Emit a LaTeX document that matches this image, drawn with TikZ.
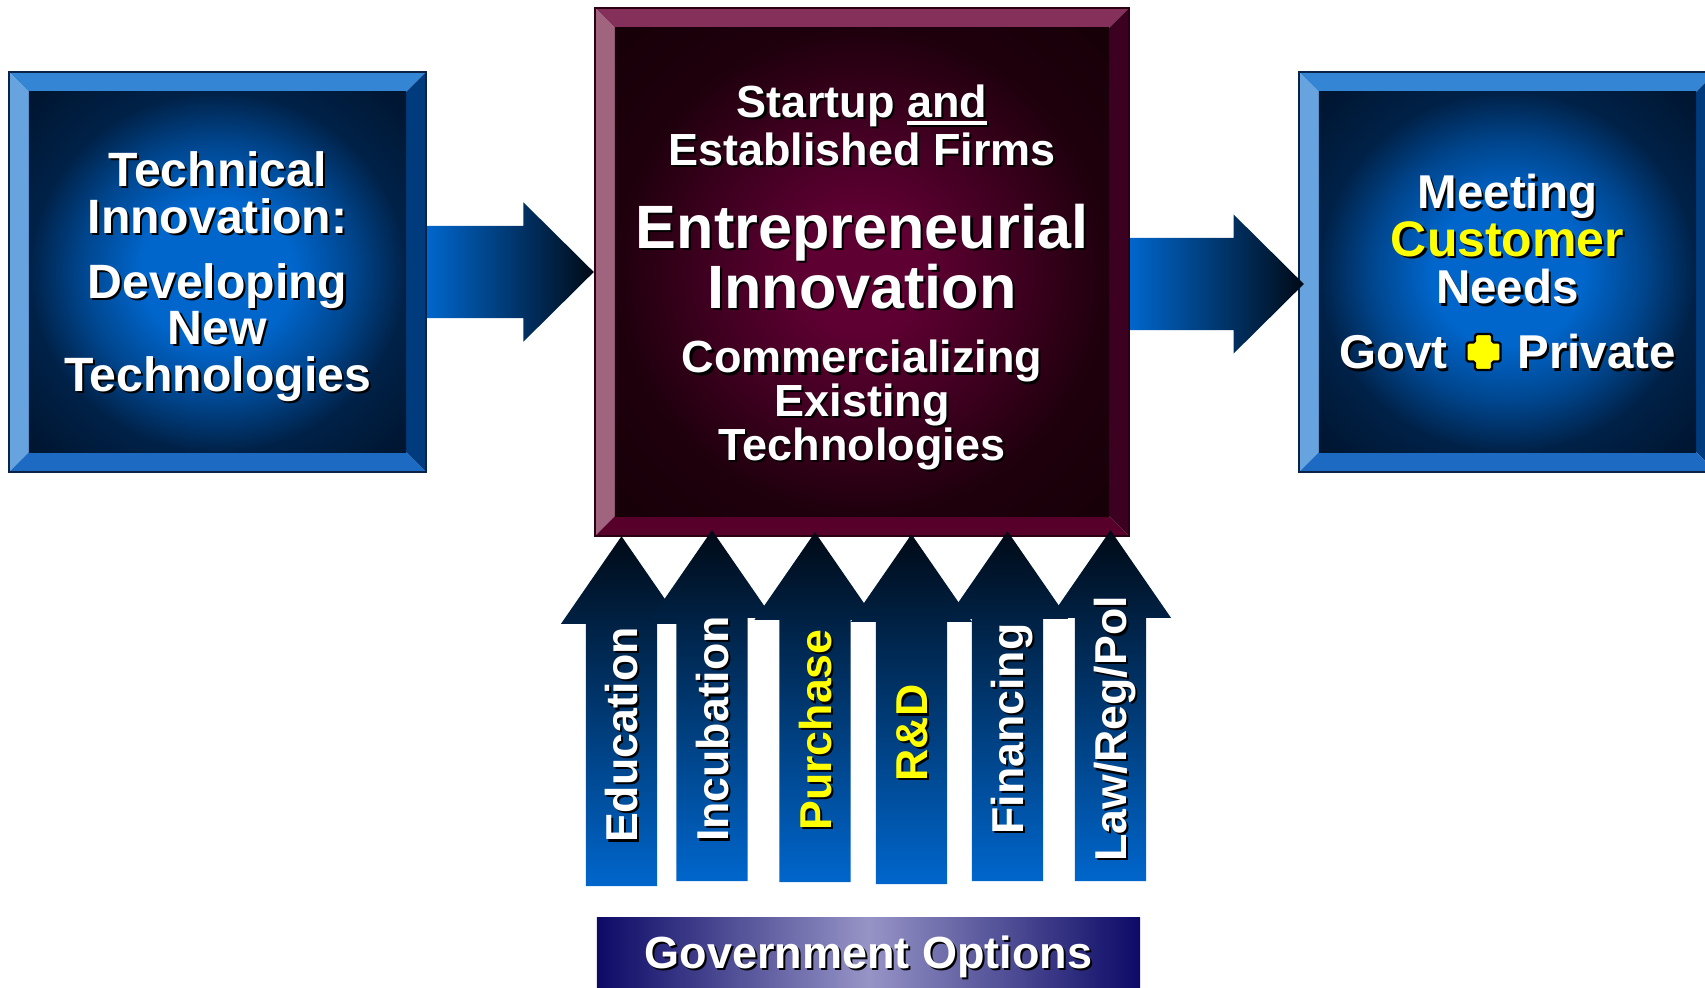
\documentclass[tikz,border=0pt]{standalone}
\usepackage{fontspec}
\setmainfont{Liberation Sans}
\usetikzlibrary{positioning,calc}

\definecolor{bluetop}{HTML}{3585D5}
\definecolor{blueleft}{HTML}{66A3DF}
\definecolor{blueright}{HTML}{003B7D}
\definecolor{bluebottom}{HTML}{1D6AC2}
\definecolor{bluelight}{HTML}{0066CC}
\definecolor{bluedark}{HTML}{001530}
\definecolor{blueline}{HTML}{0B2347}
\definecolor{winetop}{HTML}{85305B}
\definecolor{wineleft}{HTML}{A0647F}
\definecolor{wineright}{HTML}{3C0021}
\definecolor{winebottom}{HTML}{56002A}
\definecolor{winelight}{HTML}{5E0032}
\definecolor{winedark}{HTML}{170008}
\definecolor{wineline}{HTML}{2A0012}
\definecolor{arrowtip}{HTML}{000A16}
\definecolor{arrowtail}{HTML}{0066CC}
\definecolor{govedge}{HTML}{0C0A66}
\definecolor{govmid}{HTML}{9694C6}
\definecolor{hl}{HTML}{FFFF00}

\pgfdeclareradialshading{blueglow}{\pgfpoint{0bp}{0bp}}{color(0bp)=(bluelight); color(10bp)=(bluelight); color(18bp)=(bluelight!60!bluedark); color(25bp)=(bluelight!15!bluedark); color(35bp)=(bluedark); color(50bp)=(bluedark)}
\pgfdeclareradialshading{wineglow}{\pgfpoint{0bp}{0bp}}{color(0bp)=(winelight); color(6bp)=(winelight); color(16bp)=(winelight!55!winedark); color(25bp)=(winelight!10!winedark); color(35bp)=(winedark); color(50bp)=(winedark)}

% text with a dark drop shadow (upright and turned)
\newcommand{\sh}[1]{\leavevmode\rlap{\colorlet{hl}{black}\color{black}\kern0.6pt\raisebox{-0.6pt}[0pt][0pt]{#1}}#1}
\newcommand{\rsh}[1]{\leavevmode\rlap{\colorlet{hl}{black}\color{black}\kern-0.6pt\raisebox{-0.6pt}[0pt][0pt]{#1}}#1}
\newcommand{\undl}[1]{\setbox0\hbox{#1}\rlap{\rule[-2.2pt]{\wd0}{1.1pt}}\box0}

\tikzset{
    bevel/.style n args={5}{path picture={
        \coordinate (pnw) at (path picture bounding box.north west);
        \coordinate (pne) at (path picture bounding box.north east);
        \coordinate (psw) at (path picture bounding box.south west);
        \coordinate (pse) at (path picture bounding box.south east);
        \fill[#1] (pnw) -- (pne) -- ([shift={(-2mm,-2mm)}]pne) -- ([shift={(2mm,-2mm)}]pnw) -- cycle;
        \fill[#2] (pnw) -- (psw) -- ([shift={(2mm,2mm)}]psw) -- ([shift={(2mm,-2mm)}]pnw) -- cycle;
        \fill[#3] (pne) -- (pse) -- ([shift={(-2mm,2mm)}]pse) -- ([shift={(-2mm,-2mm)}]pne) -- cycle;
        \fill[#4] (psw) -- (pse) -- ([shift={(-2mm,2mm)}]pse) -- ([shift={(2mm,2mm)}]psw) -- cycle;
        \shade[shading=#5] ([shift={(2mm,2mm)}]psw) rectangle ([shift={(-2mm,-2mm)}]pne);
    }},
    bluebox/.style={draw=blueline, line width=0.6pt, minimum width=4.17cm, minimum height=4cm, inner sep=0pt,
        bevel={bluetop}{blueleft}{blueright}{bluebottom}{blueglow}, text=white, align=center,
        font=\fontsize{13.7}{13.2}\selectfont\bfseries},
    winebox/.style={draw=wineline, line width=0.6pt, minimum width=5.34cm, minimum height=5.28cm, inner sep=0pt,
        bevel={winetop}{wineleft}{wineright}{winebottom}{wineglow}},
    boxtext/.style={text=white, align=center, inner sep=0pt},
    fatright/.style={to path={let \p1=(\tikztostart), \p2=(\tikztotarget) in
        (\x1,{\y2+13.1pt}) -- ({\x2-20pt},{\y2+13.1pt}) -- ({\x2-20pt},{\y2+19.8pt}) -- (\x2,\y2)
        -- ({\x2-20pt},{\y2-19.8pt}) -- ({\x2-20pt},{\y2-13.1pt}) -- (\x1,{\y2-13.1pt}) -- cycle}},
    fatup/.style={top color=arrowtip, bottom color=arrowtail, to path={let \p1=(\tikztostart), \p2=(\tikztotarget) in
        ({\x1-10.1pt},\y1) -- ({\x1-10.1pt},{\y2-24.9pt}) -- ({\x1-17.2pt},{\y2-24.9pt}) -- (\x1,\y2)
        -- ({\x1+17.2pt},{\y2-24.9pt}) -- ({\x1+10.1pt},{\y2-24.9pt}) -- ({\x1+10.1pt},\y1) -- cycle}},
    optlabel/.style={rotate=90, text=white, inner sep=0pt, text height=9.1pt, text depth=0pt,
        font=\fontsize{12.7}{14}\selectfont\bfseries},
    govbox/.style={minimum width=5.43cm, minimum height=0.69cm, inner sep=0pt,
        left color=govedge, right color=govedge, middle color=govmid, text=white,
        text height=9.2pt, text depth=0.3pt, font=\fontsize{12.8}{14}\selectfont\bfseries},
    plussign/.style={fill=hl, draw=black, line width=0.7pt, rounded corners=0.5pt}
}

\begin{document}
\begin{tikzpicture}[x=0.01cm, y=-0.01cm]
    \useasboundingbox (0,0) rectangle (1705,987);
    \clip (0,0) rectangle (1705,987);

    % Boxes
    \node[bluebox, text depth=0.3pt] (tech) at (217.5,272) {\sh{Technical}\\\sh{Innovation:}\\[5.3pt]\sh{Developing}\\\sh{New}\\\sh{Technologies}};
    \node[winebox] (firm) at (862,272) {};
    \node[bluebox, font=\fontsize{13.5}{13.5}\selectfont\bfseries] (need) at (1507.5,272) {\sh{Meeting}\\\sh{\textcolor{hl}{\fontsize{14.2}{13.5}\selectfont Customer}}\\\sh{Needs}\\[5pt]\sh{Govt\hspace{19.9pt}Private}};

    \node[boxtext, font=\fontsize{12.8}{13.7}\selectfont\bfseries] (firmtop) at (862,125) {\sh{Startup \undl{and}}\\\sh{Established Firms}};
    \node[boxtext, font=\fontsize{17.4}{17}\selectfont\bfseries] (firmmid) at (862,256.5) {\sh{Entrepreneurial}\\\sh{Innovation}};
    \node[boxtext, font=\fontsize{12.8}{12.4}\selectfont\bfseries] (firmbot) at (862,405) {\sh{Commercializing}\\\sh{Existing}\\\sh{Technologies}};

    % Govt + Private
    \coordinate (plus) at (1483.5,352);
    \filldraw[plussign] (plus) ++(-8.5,-18) -- ++(17,0) -- ++(0,8.5) -- ++(8.5,0) -- ++(0,19) -- ++(-8.5,0) -- ++(0,8.5)
        -- ++(-17,0) -- ++(0,-8.5) -- ++(-8.5,0) -- ++(0,-19) -- ++(8.5,0) -- cycle;

    % Arrows
    \shade[fatright, left color=arrowtail, right color=arrowtip] (tech.east) to (firm.west);
    \shade[fatright, left color=arrowtail, right color=arrowtip] (firm.east) to ([shift={(6,12)}]need.west);

    \coordinate (edu) at (621.5,886);
    \coordinate (incu) at (712,881);
    \coordinate (purch) at (815,882);
    \coordinate (rnd) at (911.5,884);
    \coordinate (fin) at (1007.5,881);
    \coordinate (law) at (1110.5,881);
    \shade[fatup] (edu) to ([shift={(0,-1)}]edu |- firm.south);
    \shade[fatup] (incu) to ([shift={(0,-7)}]incu |- firm.south);
    \shade[fatup] (purch) to ([shift={(0,-5)}]purch |- firm.south);
    \shade[fatup] (rnd) to ([shift={(0,-3)}]rnd |- firm.south);
    \shade[fatup] (fin) to ([shift={(0,-6)}]fin |- firm.south);
    \shade[fatup] (law) to ([shift={(0,-7)}]law |- firm.south);

    \node[optlabel] (edulbl) at (621.5,735) {\rsh{Education}};
    \node[optlabel] (inculbl) at (712,729) {\rsh{Incubation}};
    \node[optlabel, text=hl] (purchlbl) at (815,730) {\rsh{Purchase}};
    \node[optlabel, text=hl] (rndlbl) at (911.5,733) {\rsh{R\&D}};
    \node[optlabel] (finlbl) at (1007.5,729) {\rsh{Financing}};
    \node[optlabel] (lawlbl) at (1110.5,729) {\rsh{Law/Reg/Pol}};

    % Government options
    \node[govbox] (gov) at (868.5,952.5) {\sh{Government Options}};
\end{tikzpicture}
\end{document}
